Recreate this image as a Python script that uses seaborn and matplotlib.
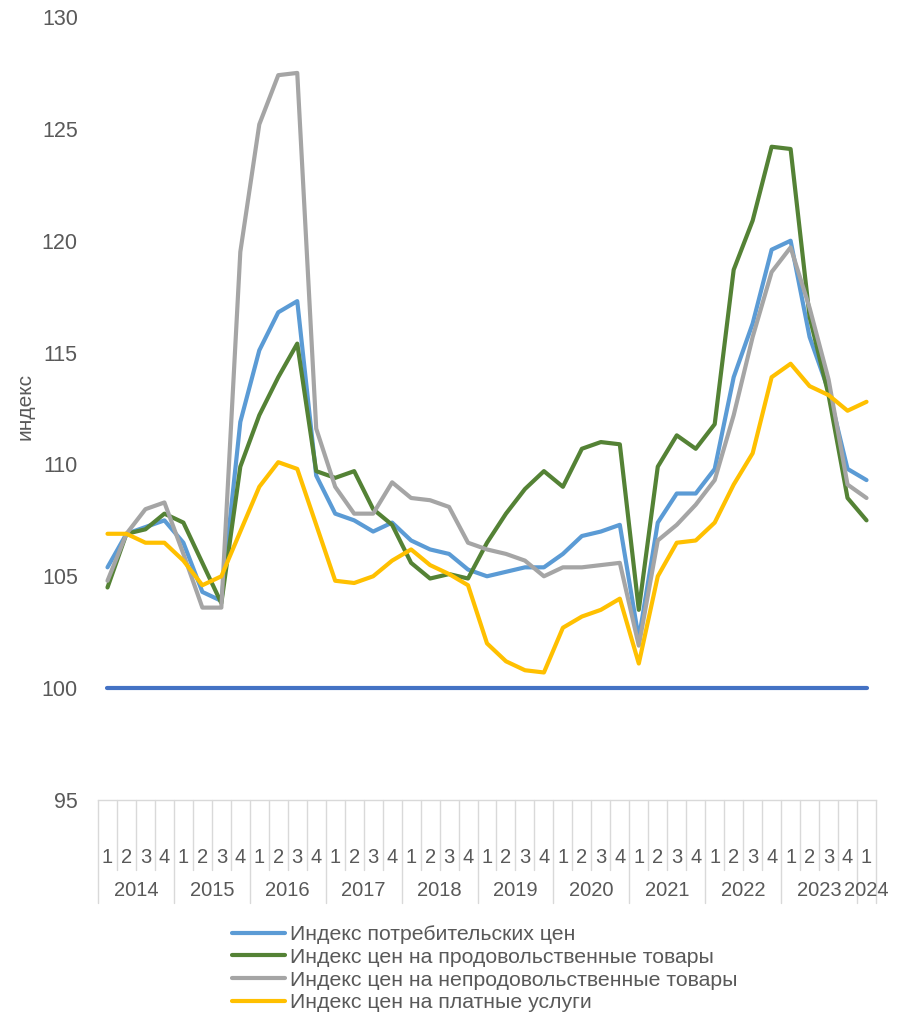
import matplotlib
import matplotlib.pyplot as plt
import matplotlib.transforms as mtransforms
import pandas as pd
import seaborn as sns

matplotlib.use("Agg")

# quarters 2014 Q1 .. 2024 Q1
YEARS = [2014, 2015, 2016, 2017, 2018, 2019, 2020, 2021, 2022, 2023, 2024]
QUARTERS = [1, 2, 3, 4] * 10 + [1]

CPI = [105.4, 106.9, 107.2, 107.5, 106.5, 104.3, 103.9, 111.9, 115.1, 116.8, 117.3,
       109.5, 107.8, 107.5, 107.0, 107.4, 106.6, 106.2, 106.0, 105.3, 105.0, 105.2,
       105.4, 105.4, 106.0, 106.8, 107.0, 107.3, 102.2, 107.4, 108.7, 108.7, 109.8,
       113.9, 116.3, 119.6, 120.0, 115.7, 113.3, 109.8, 109.3]
FOOD = [104.5, 106.9, 107.1, 107.8, 107.4, 105.6, 103.8, 109.9, 112.2, 113.9, 115.4,
        109.7, 109.4, 109.7, 108.0, 107.3, 105.6, 104.9, 105.1, 104.9, 106.5, 107.8,
        108.9, 109.7, 109.0, 110.7, 111.0, 110.9, 103.5, 109.9, 111.3, 110.7, 111.8,
        118.7, 120.9, 124.2, 124.1, 116.6, 113.1, 108.5, 107.5]
NONFOOD = [104.8, 106.9, 108.0, 108.3, 106.0, 103.6, 103.6, 119.5, 125.2, 127.4, 127.5,
           111.6, 109.0, 107.8, 107.8, 109.2, 108.5, 108.4, 108.1, 106.5, 106.2, 106.0,
           105.7, 105.0, 105.4, 105.4, 105.5, 105.6, 101.9, 106.6, 107.3, 108.2, 109.3,
           112.2, 115.7, 118.6, 119.7, 117.0, 113.8, 109.1, 108.5]
SERVICES = [106.9, 106.9, 106.5, 106.5, 105.7, 104.6, 105.0, 107.0, 109.0, 110.1, 109.8,
            107.3, 104.8, 104.7, 105.0, 105.7, 106.2, 105.5, 105.1, 104.6, 102.0, 101.2,
            100.8, 100.7, 102.7, 103.2, 103.5, 104.0, 101.1, 105.0, 106.5, 106.6, 107.4,
            109.1, 110.5, 113.9, 114.5, 113.5, 113.1, 112.4, 112.8]
BASE = [100.0] * 41

SERIES_NAMES = [
    "Индекс потребительских цен",
    "Индекс цен на продовольственные товары",
    "Индекс цен на непродовольственные товары",
    "Индекс цен на платные услуги",
]
COLORS = ["#5B9BD5", "#548235", "#A5A5A5", "#FFC000"]
TEXT_COLOR = "#595959"
GRID_COLOR = "#D9D9D9"
FONT_SIZE = 15

sns.set_theme(style="white")
plt.rcParams["font.family"] = ["Liberation Sans", "DejaVu Sans"]

positions = list(range(len(QUARTERS)))
frames = []
for name, values in zip(SERIES_NAMES, [CPI, FOOD, NONFOOD, SERVICES]):
    frames.append(pd.DataFrame({"pos": positions, "value": values, "series": name}))
df = pd.concat(frames, ignore_index=True)

fig = plt.figure(figsize=(9.04, 10.14), dpi=100)
ax = fig.add_axes([98 / 904, 1 - 800 / 1014, 778 / 904, 783 / 1014])

sns.lineplot(data=df, x="pos", y="value", hue="series", hue_order=SERIES_NAMES,
             palette=COLORS, linewidth=3, ax=ax, legend=False)
sns.lineplot(x=positions, y=BASE, color="#4472C4", linewidth=3, ax=ax)

ax.set_xlim(-0.5, len(QUARTERS) - 0.5)
ax.set_ylim(95, 130)
ax.set_yticks(range(95, 131, 5))
ax.set_xticks([])
ax.set_xlabel("")
ax.set_ylabel("")
ax.tick_params(axis="y", length=0, pad=14.5, labelsize=15.5, labelcolor=TEXT_COLOR)
for side in ["top", "right", "left"]:
    ax.spines[side].set_visible(False)
ax.spines["bottom"].set_color(GRID_COLOR)
ax.spines["bottom"].set_linewidth(1)

fig.text(25 / 904, 1 - 407 / 1014, "индекс", rotation=90, ha="center", va="center",
         fontsize=FONT_SIZE, color=TEXT_COLOR)

# two-level category axis like Excel
trans = mtransforms.blended_transform_factory(ax.transData, ax.transAxes)
n = len(QUARTERS)
for i in range(n + 1):
    edge = i - 0.5
    is_year_edge = (i % 4 == 0) or i == n
    y_low = -0.1315 if is_year_edge else -0.089
    ax.plot([edge, edge], [0, y_low], color=GRID_COLOR, lw=1, transform=trans, clip_on=False)
for i, q in enumerate(QUARTERS):
    ax.text(i, -0.074, str(q), transform=trans, ha="center", va="center",
            fontsize=FONT_SIZE - 0.5, color=TEXT_COLOR)
for k, year in enumerate(YEARS):
    idx = [i for i in range(n) if i // 4 == k]
    ax.text(sum(idx) / len(idx), -0.115, str(year), transform=trans, ha="center",
            va="center", fontsize=FONT_SIZE - 0.5, color=TEXT_COLOR)

handles = ax.get_lines()[:4]
fig.legend(handles, SERIES_NAMES, loc="upper left", bbox_to_anchor=(232 / 904, 1 - 925 / 1014),
           frameon=False, fontsize=15.3, handlelength=2.5, handletextpad=0.25,
           labelspacing=0.18, borderpad=0, borderaxespad=0, labelcolor=TEXT_COLOR)

fig.savefig("out.png", dpi=100)
